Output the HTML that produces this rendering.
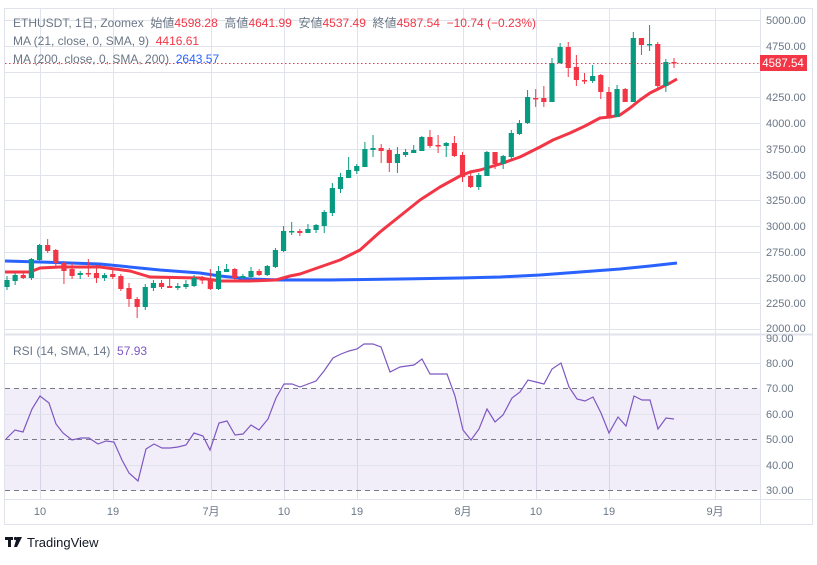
<!DOCTYPE html>
<html><head><meta charset="utf-8"><style>
html,body{margin:0;padding:0;background:#fff;}
body{width:817px;height:560px;overflow:hidden;position:relative;font-family:"Liberation Sans","Noto Sans CJK JP",sans-serif;}
svg text{font-family:"Liberation Sans","Noto Sans CJK JP",sans-serif;}
</style></head><body>
<svg width="817" height="560" viewBox="0 0 817 560" xmlns="http://www.w3.org/2000/svg">
<rect x="4.5" y="8.5" width="808" height="516" fill="#fff" stroke="#e0e3eb"/>
<!-- main grid -->
<g stroke="#e0e3eb" stroke-width="1">
<line x1="5" x2="760" y1="20.5" y2="20.5"/><line x1="5" x2="760" y1="46.5" y2="46.5"/><line x1="5" x2="760" y1="72.5" y2="72.5"/><line x1="5" x2="760" y1="97.5" y2="97.5"/><line x1="5" x2="760" y1="123.5" y2="123.5"/><line x1="5" x2="760" y1="149.5" y2="149.5"/><line x1="5" x2="760" y1="175.5" y2="175.5"/><line x1="5" x2="760" y1="200.5" y2="200.5"/><line x1="5" x2="760" y1="226.5" y2="226.5"/><line x1="5" x2="760" y1="252.5" y2="252.5"/><line x1="5" x2="760" y1="278.5" y2="278.5"/><line x1="5" x2="760" y1="303.5" y2="303.5"/><line x1="5" x2="760" y1="329.5" y2="329.5"/>
<line x1="40.5" x2="40.5" y1="9" y2="499"/><line x1="113.5" x2="113.5" y1="9" y2="499"/><line x1="211.5" x2="211.5" y1="9" y2="499"/><line x1="284.5" x2="284.5" y1="9" y2="499"/><line x1="357.5" x2="357.5" y1="9" y2="499"/><line x1="463.5" x2="463.5" y1="9" y2="499"/><line x1="536.5" x2="536.5" y1="9" y2="499"/><line x1="609.5" x2="609.5" y1="9" y2="499"/><line x1="715.5" x2="715.5" y1="9" y2="499"/>
</g>
<line x1="5" x2="812" y1="334.5" y2="334.5" stroke="#e0e3eb" stroke-width="2"/>
<line x1="760.5" x2="760.5" y1="9" y2="524" stroke="#e0e3eb"/>
<line x1="5" x2="812" y1="499.5" y2="499.5" stroke="#e0e3eb"/>
<!-- RSI band -->
<rect x="5" y="388.5" width="755" height="102" fill="#7e57c2" fill-opacity="0.1"/>
<g stroke="#e0e3eb"><line x1="5" x2="760" y1="363.5" y2="363.5"/><line x1="5" x2="760" y1="414.5" y2="414.5"/><line x1="5" x2="760" y1="465.5" y2="465.5"/></g>
<g stroke="#787b86" stroke-dasharray="5,4"><line x1="5" x2="760" y1="388.5" y2="388.5"/><line x1="5" x2="760" y1="439.5" y2="439.5"/><line x1="5" x2="760" y1="490.5" y2="490.5"/></g>
<polyline fill="none" stroke="#7e57c2" stroke-width="1.2" points="6,439 15,430 23,432 32,409 40,396 49,403 56,424 63,433 72,440 81,438 89,438 98,444 106,441 114,442 122,460 129,473 138,481 146,449 154,444 162,448 170,448 178,447 186,445 194,433 203,436 210,450 219,423 227,421 235,435 243,434 251,425 259,430 268,419 276,398 284,384 292,384 300,387 308,384 316,381 324,371 333,358 341,354 349,351 357,349 364,344 373,344 381,347 390,372 400,367 414,365 422,359 430,374 438,374 447,374 455,396 463,430 471,440 479,429 487,409 495,422 503,415 512,398 520,392 528,380 536,382 544,384 552,369 561,363 569,387 577,399 585,401 593,397 601,413 609,433 618,417 626,426 634,396 642,400 650,400 658,429 666,418 674,419"/>
<!-- MA lines -->
<polyline fill="none" stroke="#2962ff" stroke-width="3" stroke-linejoin="round" points="5,261 40,262 100,264 160,270 200,273 220,276 250,279 280,280 330,280 400,279 460,278 500,277 540,275 580,272 620,269 650,266 677,263"/>
<polyline fill="none" stroke="#f23645" stroke-width="3" stroke-linejoin="round" points="5,272 30,272 40,268 60,267 100,267 130,271 150,277 200,278 220,281 250,281 276,280 290,276 300,274 320,267 340,260 360,250 380,232 400,216 420,200 440,187 460,176 470,172 480,170 500,164 520,157 540,147 553,140 570,133 585,126 600,118 610,117 620,115 630,108 640,100 650,93 660,88 670,83 677,79"/>
<!-- candles -->
<g id="c"></g>
<!-- last price line -->
<line x1="5" x2="760" y1="63.5" y2="63.5" stroke="#f23645" stroke-dasharray="1.5,2.5"/>
<rect x="760" y="55" width="47" height="16" fill="#f23645"/>
<text x="783" y="67" font-size="11.5" fill="#fff" text-anchor="middle">4587.54</text>
<!-- right axis labels -->
<g font-size="11" fill="#6a7686">
<text x="766" y="24">5000.00</text><text x="766" y="50">4750.00</text><text x="766" y="101">4250.00</text><text x="766" y="127">4000.00</text><text x="766" y="153">3750.00</text><text x="766" y="179">3500.00</text><text x="766" y="204">3250.00</text><text x="766" y="230">3000.00</text><text x="766" y="256">2750.00</text><text x="766" y="282">2500.00</text><text x="766" y="307">2250.00</text><text x="766" y="332">2000.00</text>
<text x="766" y="342">90.00</text><text x="766" y="367">80.00</text><text x="766" y="392">70.00</text><text x="766" y="418">60.00</text><text x="766" y="443">50.00</text><text x="766" y="469">40.00</text><text x="766" y="494">30.00</text>
</g>
<g font-size="11" fill="#6a7686" text-anchor="middle">
<text x="40" y="515">10</text><text x="113" y="515">19</text><text x="211" y="515">7月</text><text x="284" y="515">10</text><text x="357" y="515">19</text><text x="463" y="515">8月</text><text x="536" y="515">10</text><text x="609" y="515">19</text><text x="715" y="515">9月</text>
</g>
<!-- legends -->
<g font-size="12" fill="#6a7686">
<text x="13" y="27">ETHUSDT, 1日, Zoomex &#160;始値<tspan fill="#f23645">4598.28</tspan> &#160;高値<tspan fill="#f23645">4641.99</tspan> &#160;安値<tspan fill="#f23645">4537.49</tspan> &#160;終値<tspan fill="#f23645">4587.54</tspan> &#160;<tspan fill="#f23645">−10.74 (−0.23%)</tspan></text>
<text x="13" y="45">MA (21, close, 0, SMA, 9) &#160;<tspan fill="#f23645">4416.61</tspan></text>
<text x="13" y="63">MA (200, close, 0, SMA, 200) &#160;<tspan fill="#2962ff">2643.57</tspan></text>
<text x="13" y="355">RSI (14, SMA, 14) &#160;<tspan fill="#7e57c2">57.93</tspan></text>
</g>
<!-- logo -->
<g fill="#131722"><rect x="5" y="537" width="8" height="3"/><rect x="8" y="537" width="3" height="10"/><circle cx="15.5" cy="538.5" r="1.6"/><path d="M17 537 L22 537 L17 547 L14 547 Z"/></g>
<text x="27" y="547" font-size="13" fill="#131722">TradingView</text>
</svg>
<script>
var d=[[1,280,287,276,290],[1,275,281,273,285],[0,275,278,273,279],[1,259,278,258,280],[1,245,260,244,262],[0,245,251,239,253],[0,250,263,249,266],[0,263,271,261,284],[0,269,276,263,279],[1,273,275,271,279],[0,273,274,259,277],[0,273,278,265,283],[1,275,278,273,281],[0,274,277,270,279],[0,276,289,274,291],[0,288,299,283,307],[0,299,307,297,318],[1,287,307,284,310],[1,283,288,280,291],[0,283,287,280,289],[0,286,288,277,288],[1,286,288,283,290],[1,284,287,280,289],[1,278,286,275,287],[0,279,280,276,284],[0,279,289,269,290],[1,271,289,266,290],[1,269,272,264,272],[0,269,278,268,281],[1,276,278,274,279],[1,271,277,267,279],[0,271,275,269,276],[1,266,275,265,276],[1,250,267,248,268],[1,231,251,226,252],[1,231,232,222,235],[0,231,233,229,236],[1,229,233,224,233],[1,225,230,224,233],[1,212,226,210,233],[1,188,213,183,216],[1,177,189,173,193],[1,170,178,157,178],[1,166,171,164,174],[1,149,167,142,167],[1,148,150,135,157],[0,148,151,144,163],[0,150,163,148,172],[1,154,163,147,173],[1,152,155,149,157],[1,150,153,145,153],[1,137,151,136,151],[0,137,146,130,148],[0,145,146,135,153],[1,143,146,142,157],[0,143,156,136,157],[0,155,177,152,182],[0,176,187,171,188],[1,175,187,173,190],[1,152,176,151,176],[0,152,164,152,169],[1,156,164,155,169],[1,133,157,130,160],[1,123,134,120,135],[1,97,123,90,124],[0,98,99,89,107],[0,98,102,86,107],[1,63,102,58,102],[1,47,63,43,64],[0,47,68,42,77],[0,67,80,55,86],[0,80,81,73,84],[1,76,81,65,83],[0,75,92,74,99],[0,92,117,87,118],[1,89,117,85,117],[0,89,102,88,102],[1,38,102,32,102],[0,38,45,38,55],[1,44,45,25,51],[0,44,86,42,88],[1,62,86,59,92],[0,62,63,58,68]];
var s='',g=document.getElementById('c');
for(var i=0;i<d.length;i++){var x=7+i*8.134,c=d[i][0]?'#089981':'#f23645',t=d[i][1],b=d[i][2];if(b-t<1.5)b=t+1.5;
s+='<line x1="'+x+'" x2="'+x+'" y1="'+d[i][3]+'" y2="'+d[i][4]+'" stroke="'+c+'" stroke-width="1"/>';
s+='<rect x="'+(x-2.6)+'" y="'+t+'" width="5.2" height="'+(b-t)+'" fill="'+c+'"/>';}
g.innerHTML=s;
</script>
</body></html>
